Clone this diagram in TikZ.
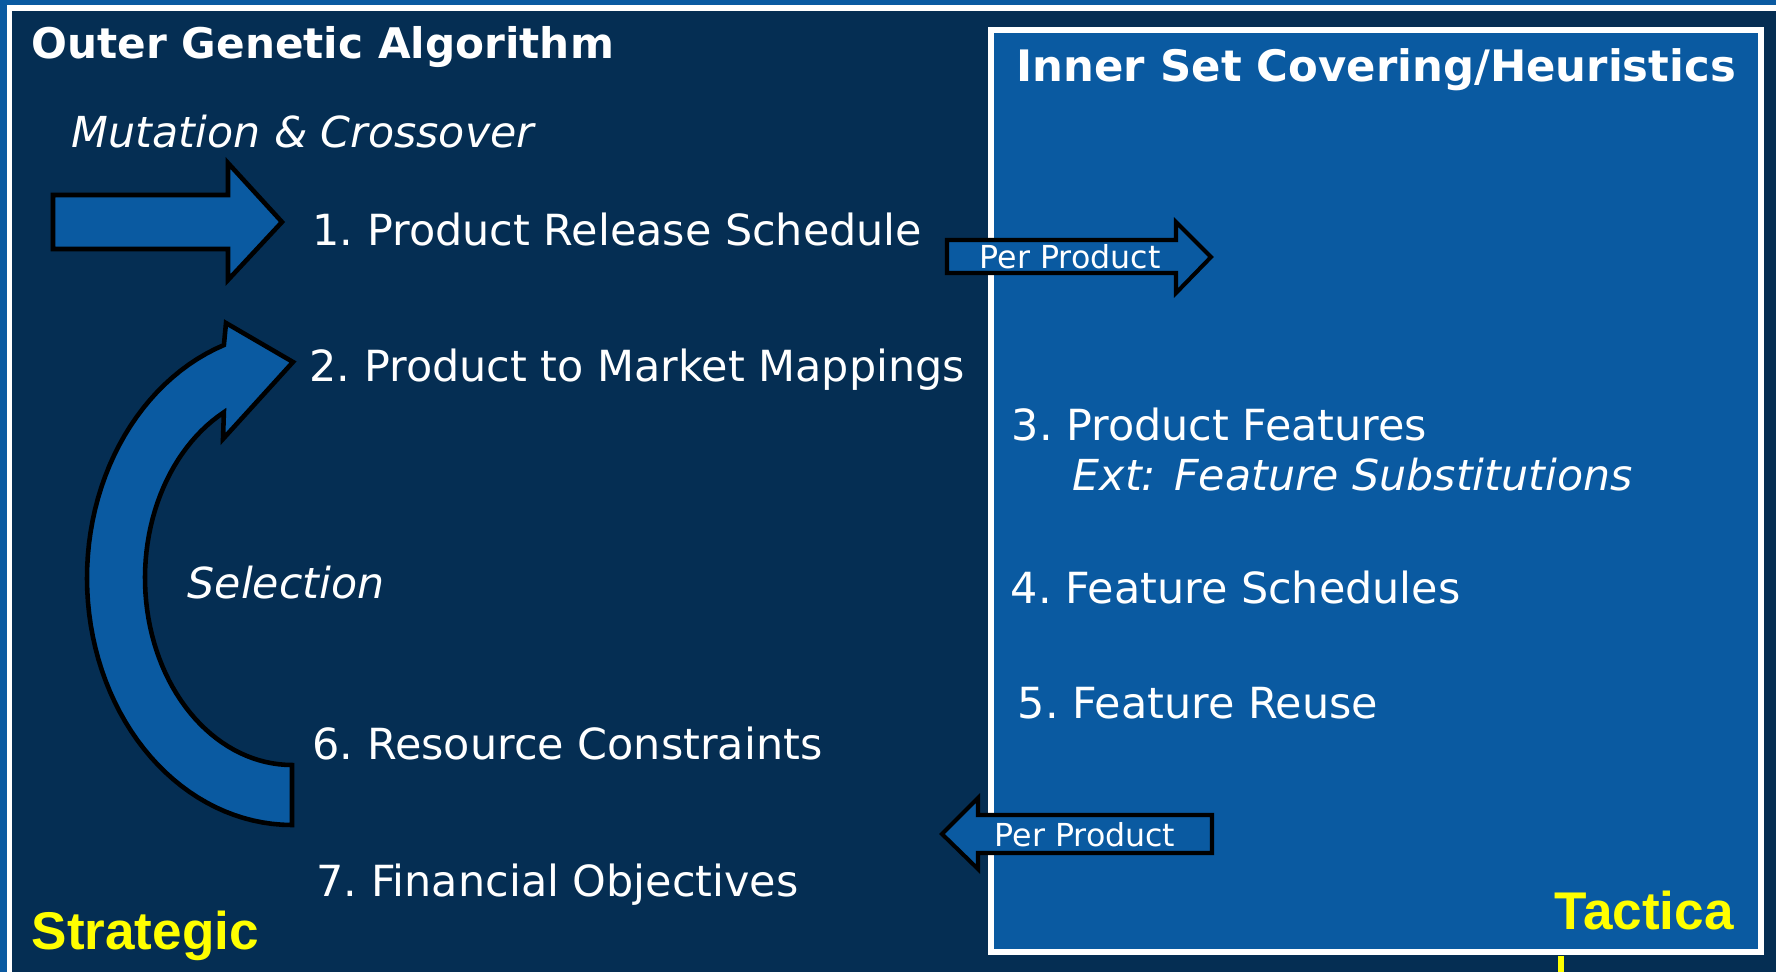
\documentclass[tikz,border=0pt]{standalone}
\usepackage{fontspec}
\setmainfont{DejaVu Sans}
\newfontfamily\tagfont{Liberation Sans}
\definecolor{navy}{RGB}{5,46,83}
\definecolor{panel}{RGB}{10,90,161}
\definecolor{tagyellow}{RGB}{255,255,0}
\tikzset{
  lbl/.style={text=white, inner sep=0pt, anchor=base west, font=\fontsize{12.2}{14}\selectfont},
  ital/.style={lbl, font=\fontsize{12.15}{14}\selectfont\itshape},
  ttl/.style={lbl, font=\fontsize{12}{14}\selectfont\bfseries},
  ttlwide/.style={lbl, font=\fontsize{12.33}{14}\selectfont\bfseries},
  small/.style={lbl, font=\fontsize{9}{11}\selectfont},
  tag/.style={text=tagyellow, inner sep=0pt, anchor=base west, font=\fontsize{15.1}{17}\selectfont\tagfont\bfseries},
  blockarrow/.style={fill=panel, draw=black, line width=1.3pt, line join=miter},
}
\begin{document}
\begin{tikzpicture}[x=0.01cm, y=-0.01cm]
\useasboundingbox (0,0) rectangle (1776,972);
% slide frame: blue edge, white rule, navy field
\fill[panel] (0,0) rectangle (1776,972);
\fill[white] (7,5) rectangle (1776,972);
\fill[navy] (12,11) rectangle (1776,972);
% inner panel
\draw[fill=panel, draw=white, line width=1.45pt] (991,30) rectangle (1761,952);
% yellow connector stub
\draw[tagyellow, line width=1.6pt] (1561,956) -- (1561,972);

% straight block arrow for mutation & crossover
\draw[blockarrow] (53,195) -- (228,195) -- (228,163) -- (282,222) -- (228,280) -- (228,249) -- (53,249) -- cycle;

% curved block arrow for selection
\draw[blockarrow]
  plot[domain=90:250.6, samples=60] ({292+205*cos(\x)}, {578+247*sin(\x)})
  -- (226,323) -- (293,362) -- (223,439)
  -- plot[domain=242.4:90, samples=60] ({292+147*cos(\x)}, {578+187*sin(\x)})
  -- cycle;

% per-product arrows between the two levels
\draw[blockarrow, line width=1.15pt] (947,240) -- (1176,240) -- (1176,222) -- (1211,257) -- (1176,293) -- (1176,273) -- (947,273) -- cycle;
\draw[blockarrow, line width=1.15pt] (1212,815) -- (978,815) -- (978,798) -- (942,834) -- (978,869) -- (978,853) -- (1212,853) -- cycle;

% headings
\node[ttl] (outer) at (31,58) {Outer Genetic Algorithm};
\node[ttlwide] (inner) at (1016,81) {Inner Set Covering/Heuristics};

% outer level items
\node[ital] (mut) at (71,147) {Mutation \& Crossover};
\node[lbl] (i1) at (312,245) {1.\ Product Release Schedule};
\node[lbl] (i2) at (309,381) {2.\ Product to Market Mappings};
\node[ital] (sel) at (187,598) {Selection};
\node[lbl] (i6) at (312,759) {6.\ Resource Constraints};
\node[lbl] (i7) at (316,896) {7.\ Financial Objectives};

% inner level items
\node[lbl] (i3) at (1011,440) {3.\ Product Features};
\node[ital] (ext) at (1072,490) {Ext: Feature Substitutions};
\node[lbl] (i4) at (1010,603) {4.\ Feature Schedules};
\node[lbl] (i5) at (1017,718) {5.\ Feature Reuse};

% arrow captions
\node[small] (pp1) at (979,268) {Per Product};
\node[small] (pp2) at (994,846) {Per Product};

% level tags
\node[tag] (strat) at (31,949) {Strategic};
\node[tag] (tact) at (1554,929) {Tactica};
\end{tikzpicture}
\end{document}
